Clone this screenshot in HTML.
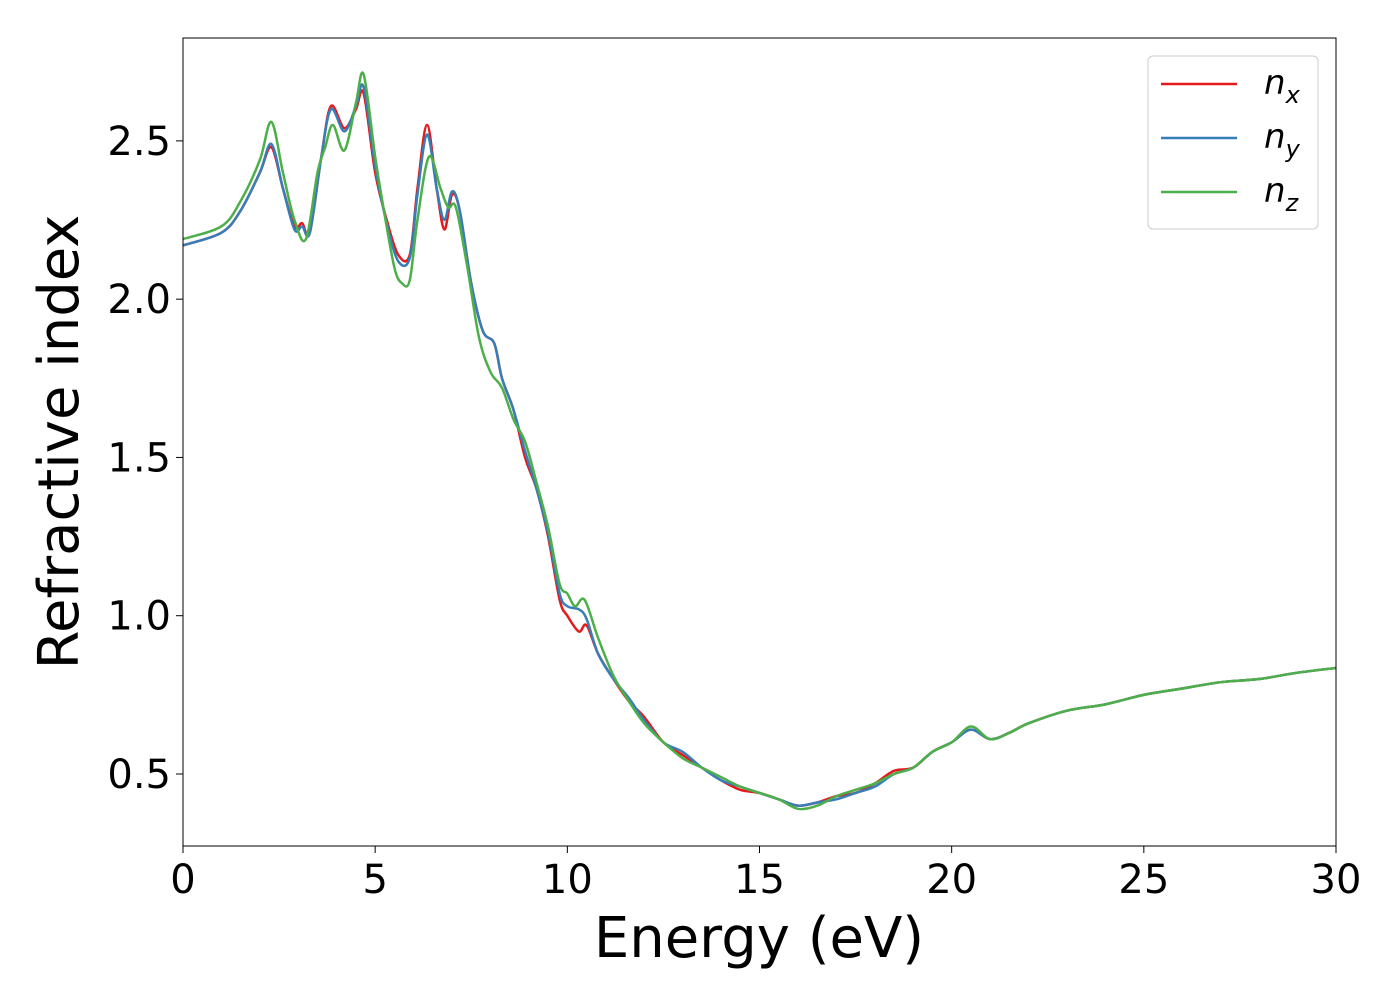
<!DOCTYPE html>
<html><head><meta charset="utf-8"><style>
body{margin:0;background:#fff;}
svg{font-family:"DejaVu Sans","Liberation Sans",sans-serif;}
</style></head><body>
<svg id="chart" width="1400" height="1000">
<g id="plot"></g>
</svg>
<script>
const xTicks=[0,5,10,15,20,25,30];
const yTicks=[0.5,1.0,1.5,2.0,2.5];
const seriesNames=["n_x","n_y","n_z"];
const seriesColors=["#e41a1c","#377eb8","#4daf4a"];
const nxX=[0,1,1.5,2,2.3,2.6,2.9,3.1,3.3,3.6,3.85,4.2,4.5,4.7,5,5.3,5.6,5.9,6.1,6.35,6.6,6.8,7,7.2,7.5,7.8,8.1,8.3,8.6,8.9,9.2,9.5,9.8,10,10.3,10.5,10.8,11.2,11.6,12,12.5,13,13.5,14,14.5,15,15.5,16,16.5,17,17.5,18,18.5,19,19.5,20,20.5,21,21.5,22,23,24,25,26,27,28,29,30];
const nxY=[2.17,2.21,2.28,2.40,2.48,2.35,2.23,2.24,2.21,2.45,2.61,2.54,2.60,2.65,2.40,2.25,2.14,2.14,2.35,2.55,2.35,2.22,2.33,2.28,2.05,1.90,1.86,1.75,1.65,1.50,1.40,1.25,1.05,1.00,0.95,0.97,0.88,0.80,0.73,0.68,0.60,0.56,0.52,0.48,0.45,0.44,0.42,0.40,0.41,0.43,0.44,0.47,0.51,0.52,0.57,0.60,0.64,0.61,0.63,0.66,0.70,0.72,0.75,0.77,0.79,0.80,0.82,0.835];
const nyX=nxX;
const nyY=[2.17,2.21,2.28,2.40,2.49,2.35,2.22,2.23,2.21,2.45,2.60,2.53,2.61,2.67,2.42,2.24,2.12,2.13,2.33,2.52,2.35,2.25,2.34,2.28,2.05,1.90,1.86,1.75,1.65,1.52,1.40,1.26,1.07,1.03,1.02,0.99,0.88,0.80,0.74,0.67,0.60,0.57,0.52,0.48,0.46,0.44,0.42,0.40,0.41,0.42,0.44,0.46,0.50,0.52,0.57,0.60,0.64,0.61,0.63,0.66,0.70,0.72,0.75,0.77,0.79,0.80,0.82,0.835];
const nzX=[0,1,1.5,2,2.3,2.6,2.9,3.2,3.5,3.7,3.9,4.2,4.5,4.7,5,5.2,5.5,5.7,5.9,6.1,6.4,6.7,6.9,7.1,7.4,7.7,8,8.3,8.6,8.9,9.2,9.5,9.8,10,10.2,10.45,10.8,11.2,11.6,12,12.5,13,13.5,14,14.5,15,15.5,16,16.5,17,17.5,18,18.5,19,19.5,20,20.5,21,21.5,22,23,24,25,26,27,28,29,30];
const nzY=[2.19,2.23,2.31,2.44,2.56,2.40,2.25,2.19,2.40,2.48,2.55,2.47,2.62,2.71,2.45,2.30,2.10,2.05,2.06,2.25,2.45,2.35,2.29,2.29,2.10,1.88,1.77,1.72,1.62,1.55,1.42,1.28,1.10,1.07,1.03,1.05,0.93,0.81,0.73,0.66,0.60,0.55,0.52,0.49,0.46,0.44,0.42,0.39,0.40,0.43,0.45,0.47,0.50,0.52,0.57,0.60,0.65,0.61,0.63,0.66,0.70,0.72,0.75,0.77,0.79,0.80,0.82,0.835];
const L=183,R=1336,T=38,B=846,xMin=0,xMax=30,yMin=0.2725,yMax=2.825;
const sx=v=>L+(v-xMin)/(xMax-xMin)*(R-L);
const sy=v=>B-(v-yMin)/(yMax-yMin)*(B-T);
const NS="http://www.w3.org/2000/svg";
const svg=document.getElementById('chart');
function mk(tag,attrs,parent){const e=document.createElementNS(NS,tag);for(const k in attrs)e.setAttribute(k,attrs[k]);(parent||svg).appendChild(e);return e;}
function smooth(xs,ys){const p=xs.map((x,i)=>[sx(x),sy(ys[i])]);let d="M"+p[0][0]+","+p[0][1];
for(let i=0;i<p.length-1;i++){const p0=p[Math.max(0,i-1)],p1=p[i],p2=p[i+1],p3=p[Math.min(p.length-1,i+2)];
d+=" C"+(p1[0]+(p2[0]-p0[0])/6)+","+(p1[1]+(p2[1]-p0[1])/6)+" "+(p2[0]-(p3[0]-p1[0])/6)+","+(p2[1]-(p3[1]-p1[1])/6)+" "+p2[0]+","+p2[1];}return d;}
const plot=document.getElementById('plot');
const data=[[nxX,nxY],[nyX,nyY],[nzX,nzY]];
data.forEach((s,i)=>{const path=mk('path',{d:smooth(s[0],s[1]),fill:'none',stroke:seriesColors[i],'stroke-width':2.5},plot);

});
const frame=mk('rect',{x:L,y:T,width:R-L,height:B-T,fill:'none',stroke:'#000','stroke-width':1});


xTicks.forEach(t=>{const l=mk('line',{x1:sx(t),x2:sx(t),y1:B,y2:B+7,stroke:'#000'});


const tx=mk('text',{x:sx(t),y:B+47,'font-size':40,'text-anchor':'middle'});tx.textContent=t;

});
yTicks.forEach(t=>{const l=mk('line',{x1:L-7,x2:L,y1:sy(t),y2:sy(t),stroke:'#000'});


const tx=mk('text',{x:L-12,y:sy(t)+14,'font-size':40,'text-anchor':'end'});tx.textContent=t.toFixed(1);

});
const xt=mk('text',{x:759,y:957,'font-size':56,'text-anchor':'middle'});xt.textContent='Energy (eV)';


const yt=mk('text',{x:78,y:442,'font-size':56,'text-anchor':'middle',transform:'rotate(-90 78 442)'});yt.textContent='Refractive index';


const lg=mk('g',{});


mk('rect',{x:1148,y:56,width:170,height:173,rx:5,fill:'#fff',stroke:'#ccc'},lg);
const subs=['x','y','z'];
subs.forEach((s,i)=>{const y=84+i*54;
const l=mk('line',{x1:1161,x2:1237,y1:y,y2:y,stroke:seriesColors[i],'stroke-width':2.5},lg);


const t=mk('text',{x:1264,y:y+10,'font-size':34,'font-style':'italic'},lg);


t.innerHTML='n<tspan font-size="24" dy="9">'+s+'</tspan>';});
</script>
</body></html>
